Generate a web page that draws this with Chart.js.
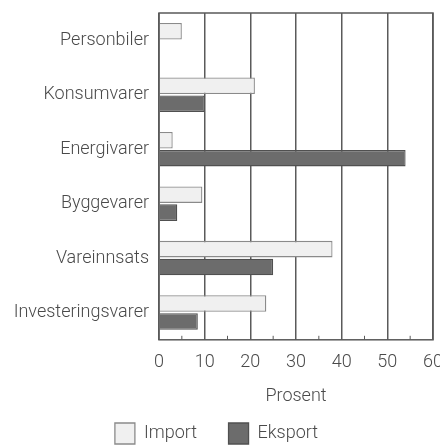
<!DOCTYPE html>
<html>
<head>
<meta charset="utf-8">
<script src="https://cdn.jsdelivr.net/npm/chart.js@4"></script>
<style>
  html, body { margin: 0; padding: 0; background: #fff; }
  canvas { display: block; }
</style>
</head>
<body>
<canvas id="tradeChart" width="440" height="445"></canvas>
<script>
// ─── data ───
const categories = ['Personbiler','Konsumvarer','Energivarer','Byggevarer','Vareinnsats','Investeringsvarer'];
const importShare = [5, 21, 3, 9.5, 38, 23.5];
const exportShare = [0, 10, 54, 4, 25, 8.5];
const xTicks = [0, 10, 20, 30, 40, 50, 60];
const minorTicks = [5, 15, 25, 35, 45, 55];

const fontFam = "Roboto, 'DejaVu Sans Condensed', Arial, sans-serif";
const textCol = '#4a4a4a';
const lineCol = '#5a5a5a';
const f = { family: fontFam, size: 18, weight: 300 };

// frame + minor ticks along the bottom
const framePlugin = {
  id: 'frame',
  afterDatasetsDraw(chart) {
    const { ctx, chartArea: a, scales: { x } } = chart;
    ctx.save();
    ctx.strokeStyle = lineCol;
    ctx.lineWidth = 1.5;
    ctx.strokeRect(a.left, a.top, a.right - a.left, a.bottom - a.top);
    ctx.lineWidth = 1;
    minorTicks.forEach(v => {
      const px = x.getPixelForValue(v);
      ctx.beginPath(); ctx.moveTo(px, a.bottom); ctx.lineTo(px, a.bottom - 4); ctx.stroke();
    });
    ctx.restore();
  }
};

new Chart(document.getElementById('tradeChart'), {
  type: 'bar',
  data: {
    labels: categories,
    datasets: [
      { label: 'Import', data: importShare, backgroundColor: '#f0f0f0', borderColor: '#8a8a8a', borderWidth: 1.3 },
      { label: 'Eksport', data: exportShare, backgroundColor: '#6c6c6c', borderColor: '#505050', borderWidth: 1.3 }
    ]
  },
  options: {
    indexAxis: 'y',
    responsive: false, animation: false,
    categoryPercentage: 0.66, barPercentage: 0.92,
    layout: { padding: { top: 13, right: 7, left: 0, bottom: -9 } },
    plugins: {
      tooltip: { enabled: false },
      legend: {
        position: 'bottom',
        labels: {
          boxWidth: 20, boxHeight: 21, padding: 4, color: textCol, font: f,
          // wider gap between the two legend entries
          generateLabels: chart => Chart.defaults.plugins.legend.labels.generateLabels(chart)
            .map((it, i) => i === 0 ? { ...it, text: it.text + '\u2002\u2002\u2002' } : it)
        }
      }
    },
    scales: {
      x: {
        min: 0, max: 60,
        afterBuildTicks: s => { s.ticks = xTicks.map(v => ({ value: v })); },
        afterFit: s => { s.paddingLeft = 0; s.paddingRight = 0; },
        grid: { color: lineCol, lineWidth: 1.5, drawTicks: false },
        border: { display: false },
        ticks: { color: textCol, padding: 12, font: f },
        title: { display: true, text: 'Prosent', color: textCol, padding: { top: 0, bottom: 12 }, font: f }
      },
      y: {
        afterFit: s => { s.width = 159; s.paddingTop = 0; s.paddingBottom = 0; },
        grid: { display: false, drawTicks: false },
        border: { display: false },
        ticks: { color: textCol, padding: 10, font: f }
      }
    }
  },
  plugins: [framePlugin]
});
</script>
</body>
</html>
